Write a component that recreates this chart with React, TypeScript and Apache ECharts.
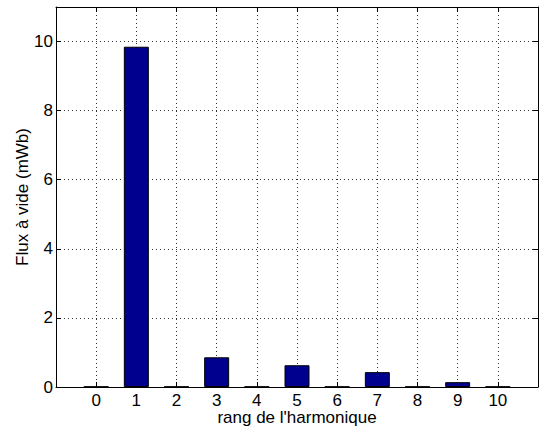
import React, { useEffect, useRef } from "react";
import * as echarts from "echarts";

const harmonics = [0, 1, 2, 3, 4, 5, 6, 7, 8, 9, 10];
const flux = [0.01, 9.85, 0.01, 0.86, 0.01, 0.63, 0.01, 0.43, 0.01, 0.14, 0.01];
const yTicks = [0, 2, 4, 6, 8, 10];

const xTitle = "rang de l'harmonique";
const yTitle = "Flux à vide (mWb)";

export default function App() {
  const ref = useRef<HTMLDivElement>(null);
  useEffect(() => {
    if (!ref.current) return;
    const chart = echarts.init(ref.current, null, { renderer: "svg" });
    const font = "'Liberation Sans', Arial, Helvetica, sans-serif";
    const fs = 17;
    const gridLine = { show: true, lineStyle: { color: "#333", type: [1, 3] as any, width: 1 } };
    const axisLine = { show: true, onZero: false, lineStyle: { color: "#000", width: 1 } };
    const tick = { show: true, inside: true, length: 5, lineStyle: { color: "#000" } };
    chart.setOption({
      animation: false,
      backgroundColor: "#fff",
      grid: { left: 56, top: 7, right: 9, bottom: 41, containLabel: false, outerBoundsMode: "none" },
      xAxis: [
        {
          type: "value",
          min: -1,
          max: 11,
          interval: 1,
          name: xTitle,
          nameLocation: "middle",
          nameGap: 22,
          nameMoveOverlap: false,
          nameTextStyle: { color: "#000", fontSize: fs, lineHeight: 16, fontFamily: font },
          axisLine,
          axisTick: tick,
          axisLabel: {
            color: "#000",
            fontSize: fs,
            lineHeight: 16,
            fontFamily: font,
            margin: 5,
            formatter: (v: number) => (harmonics.includes(v) ? String(v) : ""),
          },
          splitLine: gridLine,
        },
        {
          type: "value",
          position: "top",
          min: -1,
          max: 11,
          interval: 1,
          axisLine,
          axisTick: tick,
          axisLabel: { show: false },
          splitLine: { show: false },
        },
      ],
      yAxis: [
        {
          type: "value",
          min: 0,
          max: 11,
          interval: 2,
          name: yTitle,
          nameLocation: "middle",
          nameGap: 25,
          nameMoveOverlap: false,
          nameTextStyle: { color: "#000", fontSize: fs, fontFamily: font },
          axisLine,
          axisTick: tick,
          axisLabel: {
            color: "#000",
            fontSize: fs,
            fontFamily: font,
            margin: 3,
            formatter: (v: number) => (yTicks.includes(v) ? String(v) : ""),
          },
          splitLine: gridLine,
        },
        {
          type: "value",
          position: "right",
          min: 0,
          max: 11,
          interval: 2,
          axisLine,
          axisTick: tick,
          axisLabel: { show: false },
          splitLine: { show: false },
        },
      ],
      series: [
        {
          type: "bar",
          xAxisIndex: 0,
          yAxisIndex: 0,
          barWidth: 25,
          data: harmonics.map((h, i) => [h, flux[i]]),
          itemStyle: { color: "#00008F", borderColor: "#000", borderWidth: 1 },
          z: 3,
        },
      ],
    });
    return () => chart.dispose();
  }, []);
  return <div ref={ref} style={{ width: 547, height: 428, position: "absolute", left: 0, top: 0 }} />;
}
